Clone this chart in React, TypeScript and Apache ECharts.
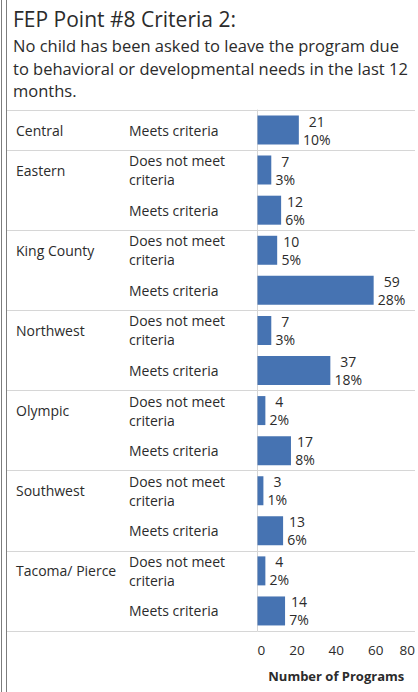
import React, { useEffect, useRef } from "react";
import * as echarts from "echarts";

const titleText = "FEP Point #8 Criteria 2:";
const subtitleLines = [
  "No child has been asked to leave the program due",
  "to behavioral or developmental needs in the last 12",
  "months.",
];
const rowRegions = [
  "Central",
  "Eastern", "Eastern",
  "King County", "King County",
  "Northwest", "Northwest",
  "Olympic", "Olympic",
  "Southwest", "Southwest",
  "Tacoma/ Pierce", "Tacoma/ Pierce",
];
const rowCriteria = [
  "Meets criteria",
  "Does not meet criteria", "Meets criteria",
  "Does not meet criteria", "Meets criteria",
  "Does not meet criteria", "Meets criteria",
  "Does not meet criteria", "Meets criteria",
  "Does not meet criteria", "Meets criteria",
  "Does not meet criteria", "Meets criteria",
];
const programCounts = [21, 7, 12, 10, 59, 7, 37, 4, 17, 3, 13, 4, 14];
const programPercents = [10, 3, 6, 5, 28, 3, 18, 2, 8, 1, 6, 2, 7];
const xTicks = [0, 20, 40, 60, 80];
const xAxisTitle = "Number of Programs";

const FONT = "'Open Sans', 'Noto Sans', sans-serif";
const TEXT = "#2b2b2b";
const BAR = "#4673b2";
const SEP = "#d6d6d6";
const LABEL_SIZE = 14;

function measure(text: string, font: string): number {
  const c = document.createElement("canvas");
  const ctx = c.getContext("2d");
  if (!ctx) return text.length * 8;
  ctx.font = font;
  return ctx.measureText(text).width;
}

export default function App() {
  const ref = useRef<HTMLDivElement>(null);
  useEffect(() => {
    if (!ref.current) return;
    const chart = echarts.init(ref.current, undefined, { renderer: "svg" });
    const categories = rowRegions.map((r, i) => `${r}|${rowCriteria[i]}`);
    const isGroupStart = (i: number) => rowRegions[i] !== rowRegions[i - 1];

    const gridLeft = 257.5;
    const gridTop = 110;
    const gridHeight = 521;
    const gridWidth = 162;
    const labelFont = `${LABEL_SIZE}px ${FONT}`;

    const barData = programCounts.map((v, i) => {
      const a = `${v}`;
      const b = `${programPercents[i]}%`;
      const w = Math.ceil(Math.max(measure(a, labelFont), measure(b, labelFont)));
      return {
        value: v,
        label: {
          formatter: `{v|${a}}\n{v|${b}}`,
          rich: {
            v: { width: w, align: "center", fontSize: LABEL_SIZE, lineHeight: 18, color: TEXT, fontFamily: FONT },
          },
        },
      };
    });

    chart.setOption({
      animation: false,
      backgroundColor: "#ffffff",
      textStyle: { fontFamily: FONT },
      grid: { left: gridLeft, top: gridTop, width: gridWidth, height: gridHeight, containLabel: false },
      graphic: [
        { type: "line", shape: { x1: 1.5, y1: 0, x2: 1.5, y2: 692 }, style: { stroke: "#7d7d7d", lineWidth: 1 } },
        { type: "line", shape: { x1: 6.5, y1: 0, x2: 6.5, y2: 692 }, style: { stroke: "#7d7d7d", lineWidth: 1 } },
        {
          type: "text",
          x: 13,
          y: 19,
          style: { text: titleText, font: `21px ${FONT}`, fill: TEXT, verticalAlign: "middle", align: "left" },
        },
        ...subtitleLines.map((t, i) => ({
          type: "text",
          x: 13,
          y: 45.5 + i * 22.5,
          style: { text: t, font: `16.5px ${FONT}`, fill: TEXT, verticalAlign: "middle", align: "left" },
        })),
      ],
      xAxis: {
        type: "value",
        min: xTicks[0],
        max: xTicks[xTicks.length - 1],
        interval: xTicks[1] - xTicks[0],
        axisLine: { show: false },
        axisTick: { show: false },
        splitLine: { show: false },
        axisLabel: {
          color: TEXT,
          fontSize: 13.5,
          fontFamily: FONT,
          margin: 12,
          alignMinLabel: "left",
          alignMaxLabel: "right",
        },
        name: xAxisTitle,
        nameLocation: "middle",
        nameGap: 38,
        nameTextStyle: { color: TEXT, fontSize: 13, fontWeight: "bold", fontFamily: FONT },
      },
      yAxis: [
        {
          type: "category",
          data: categories,
          inverse: true,
          position: "left",
          axisLine: { show: true, lineStyle: { color: SEP, width: 1 } },
          axisTick: {
            show: true,
            interval: (i: number) => isGroupStart(i),
            length: gridLeft - 7,
            lineStyle: { color: SEP, width: 1 },
          },
          splitLine: {
            show: true,
            interval: (i: number) => isGroupStart(i),
            lineStyle: { color: SEP, width: 1 },
          },
          axisLabel: {
            interval: 0,
            margin: gridLeft - 129,
            align: "left",
            color: TEXT,
            fontSize: LABEL_SIZE,
            fontFamily: FONT,
            lineHeight: 19,
            width: 112,
            overflow: "break",
            formatter: (v: string) => v.split("|")[1],
          },
        },
        {
          type: "category",
          data: categories,
          inverse: true,
          position: "left",
          axisLine: { show: false },
          axisTick: { show: false },
          splitLine: { show: false },
          axisLabel: {
            interval: 0,
            margin: gridLeft - 16,
            align: "left",
            color: TEXT,
            fontSize: LABEL_SIZE,
            fontFamily: FONT,
            formatter: (v: string, i: number) => (isGroupStart(i) ? v.split("|")[0] : ""),
          },
        },
      ],
      series: [
        {
          type: "bar",
          yAxisIndex: 0,
          data: barData,
          barWidth: 29,
          itemStyle: { color: BAR },
          label: {
            show: true,
            position: "right",
            distance: 4,
          },
        },
      ],
    });
    return () => chart.dispose();
  }, []);
  return (
    <div
      ref={ref}
      style={{ position: "fixed", left: 0, top: 0, width: 418, height: 692, background: "#fff" }}
    />
  );
}
